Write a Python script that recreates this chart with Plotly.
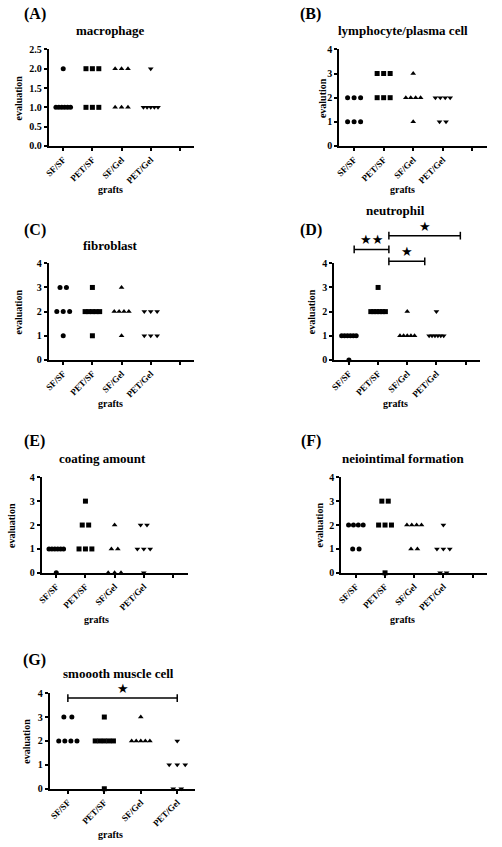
import plotly.graph_objects as go

W, H = 502, 847

groups = ["SF/SF", "PET/SF", "SF/Gel", "PET/Gel"]
symbols = ["circle", "square", "triangle-up", "triangle-down"]

# values per group: [SF/SF, PET/SF, SF/Gel, PET/Gel]
macrophage = [[2, 1, 1, 1, 1, 1, 1], [2, 2, 2, 1, 1, 1], [2, 2, 2, 1, 1, 1], [2, 1, 1, 1, 1, 1]]
lymphocyte = [[2, 2, 2, 1, 1, 1], [3, 3, 3, 2, 2, 2], [3, 2, 2, 2, 2, 1], [2, 2, 2, 2, 1, 1]]
fibroblast = [[3, 3, 2, 2, 2, 1], [3, 2, 2, 2, 2, 2, 1], [3, 2, 2, 2, 2, 1], [2, 2, 2, 1, 1, 1]]
neutrophil = [[1, 1, 1, 1, 1, 1, 0], [3, 2, 2, 2, 2, 2, 2], [2, 1, 1, 1, 1, 1], [2, 1, 1, 1, 1, 1, 1]]
coating = [[1, 1, 1, 1, 1, 1, 0], [3, 2, 2, 1, 1, 1], [2, 1, 1, 0, 0, 0], [2, 2, 1, 1, 1, 0]]
neointima = [[2, 2, 2, 2, 1, 1], [3, 3, 2, 2, 2, 0], [2, 2, 2, 2, 1, 1], [2, 1, 1, 1, 0, 0]]
smooth_muscle = [[3, 3, 2, 2, 2, 2], [3, 2, 2, 2, 2, 2, 0], [3, 2, 2, 2, 2, 2], [2, 1, 1, 1, 0, 0]]

panels = [
    # label, title, y-title, data, y max, dtick, n x ticks, px box (x0, x1, ytop, ybottom)
    ("(A)", "macrophage", "evaluation", macrophage, 2.5, 0.5, 5, (45, 192, 44, 142)),
    ("(B)", "lymphocyte/plasma cell", "evalution", lymphocyte, 4, 1, 5, (338, 487, 44, 142)),
    ("(C)", "fibroblast", "evaluation", fibroblast, 4, 1, 5, (45, 192, 261, 359)),
    ("(D)", "neutrophil", "evaluation", neutrophil, 4, 1, 5, (333, 480, 261, 359)),
    ("(E)", "coating amount", "evaluation", coating, 4, 1, 5, (38, 185, 478, 575)),
    ("(F)", "neiointimal formation", "evaluation", neointima, 4, 1, 5, (340, 487, 478, 575)),
    ("(G)", "smoooth muscle cell", "evaluation", smooth_muscle, 4, 1, 4, (46, 193, 697, 794)),
]

# text positions (px): panel label, title, y-title x, x-title
label_pos = [(31, 8), (309, 8), (31, 227), (309, 227), (31, 441), (309, 441), (31, 663)]
title_pos = [(107, 25), (402, 25), (107, 243), (395, 207), (99, 459), (402, 459), (115, 677)]
ytitle_x = [15, 321, 15, 310, 7, 318, 23]
xtitle_pos = [(107, 186), (402, 186), (107, 403), (395, 403), (93, 622), (402, 622), (107, 840)]

# significance brackets: panel index, x start, x end, height (fraction of y axis), label
brackets = [
    (3, 1.18, 2.37, 1.143, "★★"),
    (3, 2.37, 4.82, 1.286, "★"),
    (3, 2.37, 3.60, 1.02, "★"),
    (6, 1.0, 4.0, 0.948, "★"),
]

FONT = "Times New Roman, Liberation Serif, serif"


def px_x(p):
    return p / W


def px_y(p):
    return 1 - p / H


def spread(vals):
    xs_off = []
    counts = {}
    for v in vals:
        counts[v] = counts.get(v, 0) + 1
    seen = {}
    for v in vals:
        n = counts[v]
        i = seen.get(v, 0)
        seen[v] = i + 1
        step = 0.22 if n <= 3 else 0.5 / (n - 1)
        xs_off.append((i - (n - 1) / 2) * step)
    return xs_off


fig = go.Figure()
annotations = []
shapes = []

for k, (lab, title, ytitle, data, ymax, dtick, nt, box) in enumerate(panels):
    ax = "" if k == 0 else str(k + 1)
    x0, x1, yt, yb = box
    xrange = [0.5, nt + 0.5]
    for g, vals in enumerate(data):
        offs = spread(vals)
        fig.add_trace(go.Scatter(
            x=[g + 1 + o for o in offs], y=vals, mode="markers",
            marker=dict(symbol=symbols[g], size=5, color="black"),
            xaxis="x" + ax, yaxis="y" + ax, showlegend=False, cliponaxis=False,
        ))
    tickvals = list(range(1, nt + 1))
    ticktext = groups + [""] * (nt - 4)
    fig.layout["xaxis" + ax] = dict(
        domain=[px_x(x0), px_x(x1)], range=xrange, anchor="y" + ax,
        tickvals=tickvals, ticktext=ticktext, tickangle=-45,
        showline=True, linecolor="black", linewidth=2, ticks="outside",
        ticklen=3, tickwidth=1.5, tickcolor="black", showgrid=False, zeroline=False,
        tickfont=dict(family=FONT, size=9, color="black", weight="bold"),
        fixedrange=True,
    )
    yticks = [round(i * dtick, 2) for i in range(int(round(ymax / dtick)) + 1)]
    fig.layout["yaxis" + ax] = dict(
        domain=[px_y(yb), px_y(yt)], range=[0, ymax], anchor="x" + ax,
        tickvals=yticks, ticktext=[(f"{t:.1f}" if dtick < 1 else f"{t:g}") for t in yticks],
        showline=True, linecolor="black", linewidth=2, ticks="outside",
        ticklen=3, tickwidth=1.5, tickcolor="black", showgrid=False, zeroline=False,
        tickfont=dict(family=FONT, size=10, color="black", weight="bold"),
        fixedrange=True,
    )
    annotations.append(dict(x=px_x(label_pos[k][0]), y=px_y(label_pos[k][1]), xref="paper", yref="paper",
                            text=lab, showarrow=False, xanchor="center", yanchor="middle",
                            font=dict(family=FONT, size=16, color="black", weight="bold")))
    annotations.append(dict(x=px_x(title_pos[k][0]), y=px_y(title_pos[k][1]), xref="paper", yref="paper",
                            text=title, showarrow=False, xanchor="center", yanchor="middle",
                            font=dict(family=FONT, size=13, color="black", weight="bold")))
    annotations.append(dict(x=px_x(ytitle_x[k]), y=px_y((yt + yb) / 2), xref="paper", yref="paper",
                            text=ytitle, showarrow=False, xanchor="center", yanchor="middle", textangle=-90,
                            font=dict(family=FONT, size=10, color="black", weight="bold")))
    annotations.append(dict(x=px_x(xtitle_pos[k][0]), y=px_y(xtitle_pos[k][1]), xref="paper", yref="paper",
                            text="grafts", showarrow=False, xanchor="center", yanchor="middle",
                            font=dict(family=FONT, size=10, color="black", weight="bold")))

for (k, xa, xb, h, txt) in brackets:
    ax = "" if k == 0 else str(k + 1)
    nt = panels[k][6]
    span = nt
    fa = (xa - 0.5) / span
    fb = (xb - 0.5) / span
    xref = "x" + ax + " domain"
    yref = "y" + ax + " domain"
    cap = 0.04
    line = dict(color="black", width=1.5)
    shapes.append(dict(type="line", xref=xref, yref=yref, x0=fa, x1=fb, y0=h, y1=h, line=line))
    shapes.append(dict(type="line", xref=xref, yref=yref, x0=fa, x1=fa, y0=h - cap, y1=h + cap, line=line))
    shapes.append(dict(type="line", xref=xref, yref=yref, x0=fb, x1=fb, y0=h - cap, y1=h + cap, line=line))
    annotations.append(dict(x=(fa + fb) / 2, y=h, xref=xref, yref=yref, text=txt, showarrow=False,
                            xanchor="center", yanchor="bottom", yshift=0,
                            font=dict(family="DejaVu Sans", size=13, color="black")))

fig.update_layout(
    width=W, height=H, margin=dict(l=0, r=0, t=0, b=0),
    paper_bgcolor="white", plot_bgcolor="white",
    annotations=annotations, shapes=shapes, showlegend=False,
)

fig.write_html("out.html", config={"displayModeBar": False})
